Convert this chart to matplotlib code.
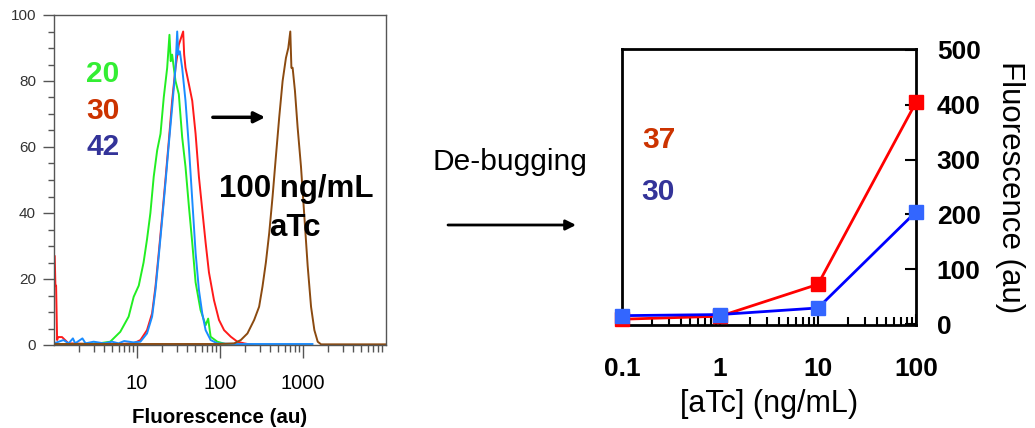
import numpy as np
import matplotlib
matplotlib.use("Agg")
import matplotlib.pyplot as plt
from matplotlib.ticker import LogLocator, FixedLocator, MultipleLocator, NullFormatter

plt.rcParams['font.family'] = ['Liberation Sans', 'DejaVu Sans']

# ---- left panel: flow cytometry histograms (fluorescence, % of max) ----
green_f = [1.0, 2.0, 3.5, 4.76, 6.29, 7.93, 9.12, 10.5, 12.0, 13.2, 14.5, 15.9, 17.5, 19.2,
           21.0, 23.1, 24.6, 25.5, 26.5, 29.1, 31.9, 35.0, 38.4, 42.2, 46.3, 50.8, 58.3,
           67.1, 72.0, 77.1, 92.8, 120, 200]
green_c = [0.3, 0.3, 0.5, 1, 4, 8.6, 14.6, 18, 25, 32, 40, 51, 59, 64,
           75, 84, 94, 86, 88, 80, 76, 63, 54, 42, 31, 19, 10.6,
           6, 8, 2.5, 1, 0.2, 0]

red_f = [1.0, 1.02, 1.04, 1.06, 1.09, 1.12, 1.25, 1.36, 1.5, 3, 6, 9.12, 11.0, 13.2, 15.2,
         16.7, 18.3, 20.1, 22.0, 24.2, 26.5, 29.1, 31.9, 36.0, 37.0, 38.4, 42.2, 46.3,
         50.8, 55.7, 61.1, 67.1, 73.6, 84.6, 97.2, 112, 135, 162, 195, 250]
red_c = [27, 27, 18, 18, 1.5, 2.4, 2.4, 1.5, 0.5, 0.3, 0.3, 0.5, 1.5, 4.5, 9.6,
         17.7, 28, 39, 50, 62, 74, 84, 91, 95, 88, 84, 79, 74,
         64, 51, 41, 31, 22, 13.6, 7.6, 4.5, 2.5, 1, 0.5, 0]

blue_f = [1.0, 1.3, 1.5, 1.69, 1.8, 2.2, 2.4, 3, 4, 5, 6, 7, 8, 9, 11.0, 13.2, 15.2, 16.7,
          18.3, 20.1, 22.0, 24.2, 26.5, 29.1, 30.5, 31.5, 32.8, 35.0, 38.4, 42.2, 46.3,
          50.8, 55.7, 61.1, 67.1, 77.1, 92.8, 150, 1000, 1300]
blue_c = [0.5, 1.5, 0.5, 2, 0.5, 2, 0.5, 1, 0.5, 1, 0.5, 1.2, 1, 0.8, 1, 3.5, 8.6, 16.7,
          27, 38, 49, 61, 72, 84, 95, 88, 89, 84, 74, 60, 44,
          28, 16.7, 9.6, 4.5, 1.5, 0.5, 0.3, 0.3, 0.3]

brown_f = [1.0, 100, 148, 178, 214, 258, 296, 325, 357, 392, 430, 471, 517, 568, 623,
           665, 703, 725, 750, 800, 861, 946, 1038, 1138, 1250, 1371, 1504, 1651, 10000]
brown_c = [0.3, 0.3, 0.5, 1.5, 3.5, 7.6, 11.6, 17.7, 25, 34, 45, 57, 69, 80, 87,
           90, 95, 84, 84, 77, 66, 54, 39, 24, 11.6, 4.5, 1, 0.2, 0.2]

# ---- right panel: mean fluorescence vs aTc ----
atc = [0.1, 1, 10, 100]
fluor_37 = [9.5, 15, 73, 404]
fluor_30 = [16, 18, 30, 205]

fig = plt.figure(figsize=(10.35, 4.28), dpi=100)

# left axes
ax1 = fig.add_axes([54 / 1035, 1 - 345 / 428, 332 / 1035, 330 / 428])
ax1.plot(red_f, red_c, color='#ff1a1a', lw=1.4)
ax1.plot(green_f, green_c, color='#22ee22', lw=1.4)
ax1.plot(blue_f, blue_c, color='#1a8cff', lw=1.4)
ax1.plot(brown_f, brown_c, color='#8b4a10', lw=1.4)
ax1.set_xscale('log')
ax1.set_xlim(1, 10000)
ax1.set_ylim(0, 100)
ax1.xaxis.set_major_locator(FixedLocator([10, 100, 1000]))
ax1.xaxis.set_minor_locator(LogLocator(base=10, subs=np.arange(2, 10)))
ax1.xaxis.set_minor_formatter(NullFormatter())
ax1.set_xticklabels(['10', '100', '1000'])
ax1.yaxis.set_major_locator(MultipleLocator(20))
ax1.yaxis.set_minor_locator(MultipleLocator(5))
for s in ax1.spines.values():
    s.set_color('#555555')
    s.set_linewidth(1.0)
ax1.tick_params(axis='x', which='major', length=9, width=1, color='#555555',
                labelsize=14.5, pad=12)
ax1.tick_params(axis='x', which='minor', length=5, width=1, color='#555555')
ax1.tick_params(axis='y', which='major', length=8, width=1, color='#555555',
                labelsize=11, labelcolor='#333333', pad=5)
ax1.tick_params(axis='y', which='minor', length=4, width=1, color='#555555')
ax1.set_xlabel('Fluorescence (au)', fontsize=14.8, fontweight='bold', labelpad=11)

ax1.text(3.9, 82, '20', color='#33ee33', fontsize=21.5, fontweight='bold', ha='center', va='center')
ax1.text(3.9, 71, '30', color='#cc3300', fontsize=21.5, fontweight='bold', ha='center', va='center')
ax1.text(3.9, 60, '42', color='#333399', fontsize=21.5, fontweight='bold', ha='center', va='center')
ax1.annotate('', xy=(350, 69), xytext=(82, 69),
             arrowprops=dict(arrowstyle='-|>', color='black', lw=2.5, mutation_scale=16,
                             shrinkA=0, shrinkB=0))
ax1.text(824, 47.3, '100 ng/mL', fontsize=22.5, fontweight='bold', ha='center', va='center')
ax1.text(800, 35.5, 'aTc', fontsize=22.5, fontweight='bold', ha='center', va='center')

# middle: de-bugging arrow
fig.text(510 / 1035, 1 - 162 / 428, 'De-bugging', fontsize=21.5, ha='center', va='center')
fig.add_artist(matplotlib.patches.FancyArrowPatch(
    (448 / 1035, 1 - 225 / 428), (576 / 1035, 1 - 225 / 428),
    transform=fig.transFigure, arrowstyle='-|>', mutation_scale=15,
    color='black', lw=2, shrinkA=0, shrinkB=0))

# right axes
ax2 = fig.add_axes([622 / 1035, 1 - 325 / 428, 294 / 1035, 276 / 428])
ax2.plot(atc, fluor_37, color='#ff0000', lw=2, marker='s', ms=9.5,
         mfc='#ff0000', mec='#ff0000', clip_on=False, zorder=3)
ax2.plot(atc, fluor_30, color='#0000ff', lw=2, marker='s', ms=9.5,
         mfc='#3366ff', mec='#3366ff', clip_on=False, zorder=4)
ax2.set_xscale('log')
ax2.set_xlim(0.1, 100)
ax2.set_ylim(-1, 501)
ax2.xaxis.set_major_locator(FixedLocator(atc))
ax2.xaxis.set_minor_locator(LogLocator(base=10, subs=np.arange(2, 10)))
ax2.xaxis.set_minor_formatter(NullFormatter())
ax2.set_xticklabels(['0.1', '1', '10', '100'])
ax2.yaxis.tick_right()
ax2.yaxis.set_label_position('right')
ax2.set_yticks([0, 100, 200, 300, 400, 500])
for s in ax2.spines.values():
    s.set_linewidth(2)
ax2.tick_params(axis='x', which='major', direction='in', length=8, width=1.5,
                labelsize=19, pad=23)
ax2.tick_params(axis='x', which='minor', direction='in', length=6, width=1.5)
ax2.tick_params(axis='y', direction='in', length=8, width=1.5, labelsize=19, pad=15)
for lab in ax2.get_xticklabels() + ax2.get_yticklabels():
    lab.set_fontweight('bold')
ax2.set_xlabel('[aTc] (ng/mL)', fontsize=22, labelpad=6)
ax2.set_ylabel('Fluorescence (au)', fontsize=22.5, rotation=270, va='bottom', labelpad=10)

ax2.text(0.239, 335, '37', color='#cc3300', fontsize=21.5, fontweight='bold', ha='center', va='center')
ax2.text(0.233, 240, '30', color='#333399', fontsize=21.5, fontweight='bold', ha='center', va='center')

fig.savefig('out.png', dpi=100)
